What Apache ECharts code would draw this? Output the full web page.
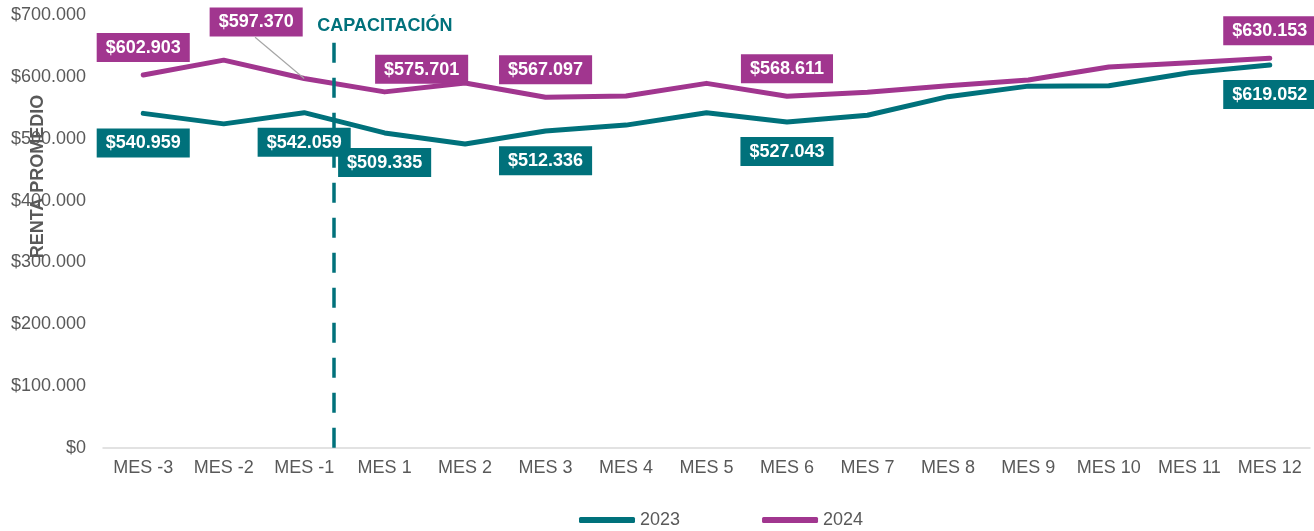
<!DOCTYPE html>
<html>
<head>
<meta charset="utf-8">
<script src="https://cdn.jsdelivr.net/npm/echarts@6/dist/echarts.min.js"></script>
<style>
  html, body { margin: 0; padding: 0; background: #fff; }
  #chart { width: 1314px; height: 531px; }
</style>
</head>
<body>
<div id="chart"></div>
<script>
// datos
const meses = ['MES -3', 'MES -2', 'MES -1', 'MES 1', 'MES 2', 'MES 3', 'MES 4', 'MES 5',
  'MES 6', 'MES 7', 'MES 8', 'MES 9', 'MES 10', 'MES 11', 'MES 12'];
const renta2023 = [540959, 524000, 542059, 509335, 491500, 512336, 522000, 542000,
  527043, 538000, 568000, 585000, 585500, 606500, 619052];
const renta2024 = [602903, 627000, 597370, 575701, 590000, 567097, 569000, 589500,
  568611, 575000, 585500, 595000, 616000, 623000, 630153];
// solo estos puntos llevan etiqueta
const conEtiqueta = [0, 2, 3, 5, 8, 14];
const marcaCapacitacion = 2.37; // entre MES -1 y MES 1
// guia de la etiqueta $597.370 (MES -1), extremo junto a la etiqueta
const guiaDesde = 2;
const guiaHasta = [1.39, 664000];

const TEAL = '#00717B';
const PURPLE = '#A1368F';
const GRIS = '#595959';
const FONT = 'Liberation Sans, Arial, sans-serif';

const fmt = v => '$' + String(Math.round(v)).replace(/\B(?=(\d{3})+(?!\d))/g, '.');

// etiquetas que en Excel se movieron a mano
const movidas2024 = {
  2: { dx: -48, dy: -29 },
  3: { dx: 37, dy: 5 }
};

function puntos(values) {
  return values.map((v, i) => ({ value: v, label: { show: conEtiqueta.includes(i) } }));
}

const chart = echarts.init(document.getElementById('chart'));

const etiqueta = color => ({
  show: false,
  formatter: p => fmt(p.value),
  color: '#fff',
  fontFamily: FONT,
  fontSize: 18,
  fontWeight: 'bold',
  backgroundColor: color,
  padding: [6, 9, 5, 9]
});

const option = {
  animation: false,
  textStyle: { fontFamily: FONT },
  grid: { left: 103, right: 4, top: 15, bottom: 83, containLabel: false, outerBoundsMode: 'none' },
  legend: {
    data: ['2023', '2024'],
    left: 579,
    top: 511,
    padding: 0,
    icon: 'roundRect',
    itemWidth: 56,
    itemHeight: 6,
    itemGap: 82,
    textStyle: { color: GRIS, fontSize: 18, fontFamily: FONT }
  },
  xAxis: [
    {
      type: 'category',
      data: meses,
      axisLine: { lineStyle: { color: '#D9D9D9', width: 1.5 } },
      axisTick: { show: false },
      axisLabel: { color: GRIS, fontSize: 18, margin: 11, interval: 0 }
    },
    {
      type: 'value',
      min: -0.5,
      max: 14.5,
      show: false
    }
  ],
  yAxis: {
    type: 'value',
    min: 0,
    max: 700000,
    interval: 100000,
    name: 'RENTA PROMEDIO',
    nameLocation: 'middle',
    nameGap: 56,
    nameMoveOverlap: false,
    nameTextStyle: { color: GRIS, fontSize: 18, fontWeight: 'bold', padding: [0, 0, 0, 110] },
    axisLine: { show: false },
    axisTick: { show: false },
    splitLine: { show: false },
    axisLabel: { color: GRIS, fontSize: 18, margin: 17, formatter: v => fmt(v) }
  },
  series: [
    {
      name: '2023',
      type: 'line',
      data: puntos(renta2023),
      symbol: 'circle',
      symbolSize: 0.1,
      showSymbol: true,
      color: TEAL,
      lineStyle: { width: 5, color: TEAL, cap: 'round', join: 'round' },
      label: Object.assign(etiqueta(TEAL), { position: 'bottom', distance: 15 }),
      z: 2
    },
    {
      name: '2024',
      type: 'line',
      data: puntos(renta2024),
      symbol: 'circle',
      symbolSize: 0.1,
      showSymbol: true,
      color: PURPLE,
      lineStyle: { width: 5, color: PURPLE, cap: 'round', join: 'round' },
      label: Object.assign(etiqueta(PURPLE), { position: 'top', distance: 13 }),
      labelLayout: p => movidas2024[p.dataIndex] || {},
      z: 3
    },
    {
      name: 'capacitacion',
      type: 'line',
      xAxisIndex: 1,
      data: [],
      z: 1,
      markLine: {
        silent: true,
        symbol: ['none', 'none'],
        lineStyle: { color: TEAL, width: 3.5, type: [20, 15] },
        label: {
          show: true,
          position: 'start',
          distance: 8,
          offset: [51, 0],
          formatter: 'CAPACITACIÓN',
          color: TEAL,
          fontSize: 18,
          fontWeight: 'bold',
          fontFamily: FONT
        },
        data: [
          [
            { coord: [marcaCapacitacion, 655000] },
            { coord: [marcaCapacitacion, 0] }
          ],
          [
            {
              coord: [guiaDesde, renta2024[guiaDesde]],
              lineStyle: { color: '#A6A6A6', width: 1.2, type: 'solid' },
              label: { show: false }
            },
            { coord: guiaHasta }
          ]
        ]
      }
    }
  ]
};

option && chart.setOption(option);
</script>
</body>
</html>
